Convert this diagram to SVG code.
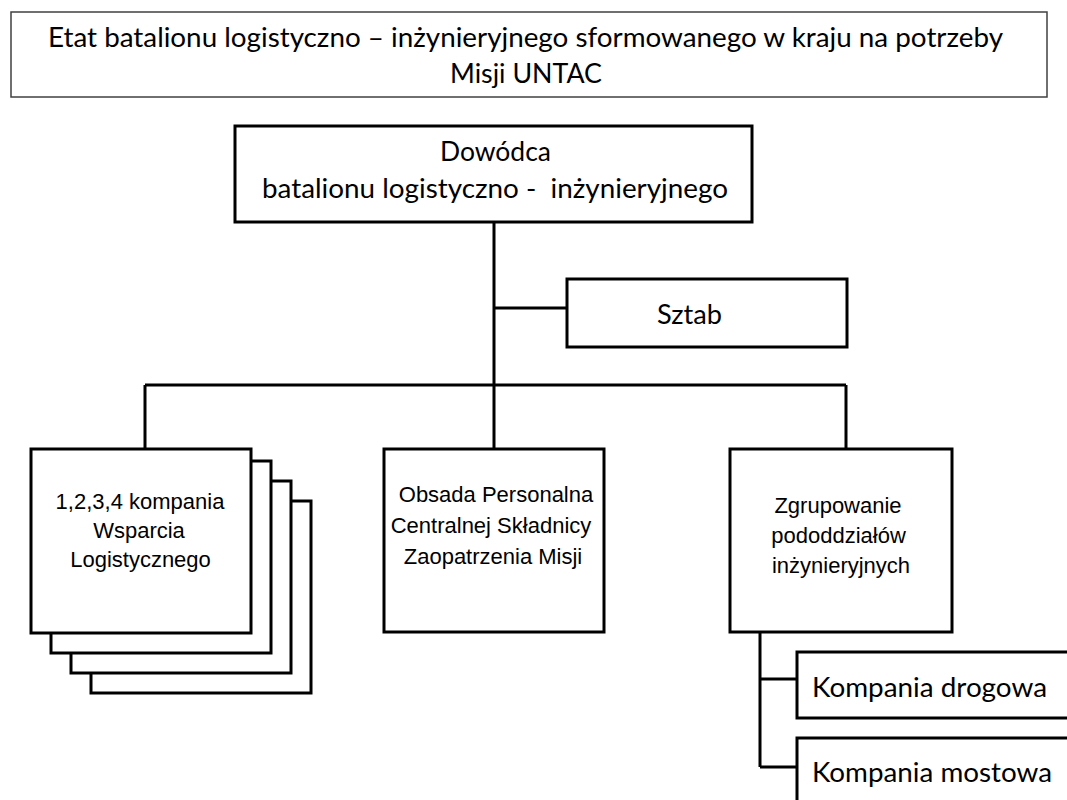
<svg xmlns="http://www.w3.org/2000/svg" width="1067" height="800" viewBox="0 0 1067 800">
<style>
.box{fill:#fff;stroke:#000;stroke-width:3}
.title{fill:#fff;stroke:#404040;stroke-width:1.5}
.ln{fill:none;stroke:#000;stroke-width:3}
.c{font-family:Lato,"Open Sans","Liberation Sans",sans-serif;font-size:26px;fill:#000}
.a{font-family:"Liberation Sans",Arial,sans-serif;font-size:22px;fill:#000;text-anchor:middle}
.m{text-anchor:middle}
</style>
<rect width="1067" height="800" fill="#fff"/>
<g id="title">
<rect class="title" x="11" y="12" width="1036" height="85"/>
<text class="c m" x="525.5" y="47" textLength="955" lengthAdjust="spacingAndGlyphs">Etat batalionu logistyczno – inżynieryjnego sformowanego w kraju na potrzeby</text>
<text class="c m" x="526" y="83" textLength="152" lengthAdjust="spacingAndGlyphs">Misji UNTAC</text>
</g>
<g id="connectors">
<path class="ln" d="M494 222V385M494 308H567M145 385H846M145 385V449M494 385V449M846 385V449M760 632V767M760 679H797M760 767H797"/>
</g>
<g id="dowodca">
<rect class="box" x="235" y="126" width="517" height="96"/>
<text class="c m" x="495.5" y="161" textLength="111" lengthAdjust="spacingAndGlyphs">Dowódca</text>
<text class="c m" x="495" y="198" xml:space="preserve" textLength="466" lengthAdjust="spacingAndGlyphs">batalionu logistyczno -  inżynieryjnego</text>
</g>
<g id="sztab">
<rect class="box" x="567" y="279" width="280" height="68"/>
<text class="c m" x="689.5" y="324" textLength="65" lengthAdjust="spacingAndGlyphs">Sztab</text>
</g>
<g id="kompanie">
<rect class="box" x="91" y="501" width="220" height="192"/>
<rect class="box" x="71" y="481" width="220" height="192"/>
<rect class="box" x="51" y="461" width="220" height="192"/>
<rect class="box" x="31" y="449" width="220" height="184"/>
<text class="a" x="140" y="509">1,2,3,4 kompania</text>
<text class="a" x="139" y="538">Wsparcia</text>
<text class="a" x="140.5" y="567">Logistycznego</text>
</g>
<g id="obsada">
<rect class="box" x="384" y="449" width="220" height="183"/>
<text class="a" x="496" y="502">Obsada Personalna</text>
<text class="a" x="491" y="533">Centralnej Składnicy</text>
<text class="a" x="493" y="564">Zaopatrzenia Misji</text>
</g>
<g id="zgrupowanie">
<rect class="box" x="730" y="449" width="222" height="183"/>
<text class="a" x="838" y="513">Zgrupowanie</text>
<text class="a" x="838.5" y="543">pododdziałów</text>
<text class="a" x="841" y="573">inżynieryjnych</text>
</g>
<g id="drogowa">
<rect class="box" x="797" y="652" width="290" height="66"/>
<text class="c" x="812" y="697" textLength="235" lengthAdjust="spacingAndGlyphs">Kompania drogowa</text>
</g>
<g id="mostowa">
<rect class="box" x="797" y="738" width="290" height="80"/>
<text class="c" x="812" y="782" textLength="240" lengthAdjust="spacingAndGlyphs">Kompania mostowa</text>
</g>
</svg>
